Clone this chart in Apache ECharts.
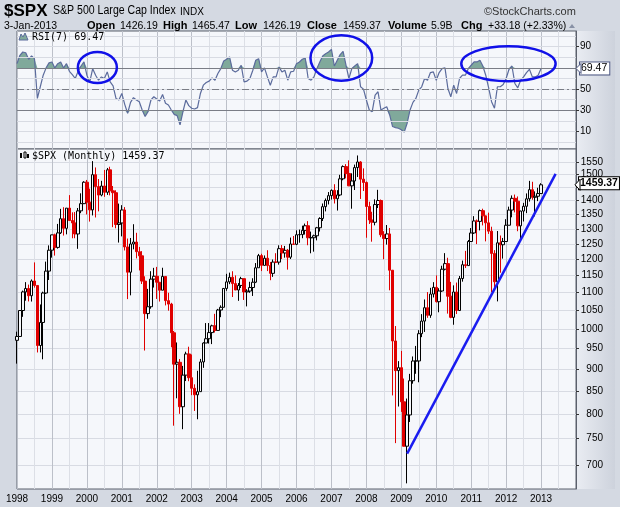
<!DOCTYPE html>
<html><head><meta charset="utf-8">
<script src="https://cdn.jsdelivr.net/npm/echarts@6/dist/echarts.min.js"></script>
<style>
html,body{margin:0;padding:0;background:#d4d9e2;overflow:hidden;}
#wrap{position:relative;width:620px;height:507px;}
#strip1,#strip2{position:absolute;left:577px;width:38px;background:linear-gradient(to right,#e9ecf2,#cdd2dc);}
#strip1{top:31px;height:118px;}
#strip2{top:149px;height:340px;}
#c{position:absolute;left:0;top:0;width:620px;height:507px;}
</style>
</head><body><div id="wrap"><div id="strip1"></div><div id="strip2"></div><div id="c"></div></div>
<script>
// ---------- data ----------
const yearLabels = ['1998','1999','2000','2001','2002','2003','2004','2005','2006','2007','2008','2009','2010','2011','2012','2013'];

// monthly candles [open, high, low, close]
const ohlc1998 = [[970.43,992.65,912.83,980.28],[980.28,1050.66,979.59,1049.34],[1049.34,1105.65,1032.10,1101.75],[1101.75,1130.52,1076.70,1111.75],[1111.75,1123.14,1074.67,1090.82],[1090.82,1138.49,1074.36,1133.84],[1133.84,1190.58,1114.30,1120.67],[1120.67,1121.40,939.98,957.28],[957.28,1066.11,939.98,1017.01],[1017.01,1102.51,923.32,1098.67],[1098.67,1192.97,1096.25,1163.63],[1163.63,1244.93,1136.89,1229.23]];
const ohlc1999 = [[1229.23,1280.37,1205.46,1279.64],[1279.64,1283.75,1211.89,1238.33],[1238.33,1316.97,1234.34,1286.37],[1286.37,1370.10,1282.56,1335.18],[1335.18,1375.98,1277.31,1301.84],[1301.84,1372.93,1281.41,1372.71],[1372.71,1420.33,1328.72,1328.72],[1328.72,1357.61,1268.37,1320.41],[1320.41,1358.55,1268.37,1282.71],[1282.71,1373.17,1233.70,1362.93],[1362.93,1427.04,1354.63,1388.91],[1388.91,1473.10,1387.38,1469.25]];
const ohlc2000 = [[1469.25,1478.00,1350.14,1394.46],[1394.46,1444.55,1325.07,1366.42],[1366.42,1552.87,1346.62,1498.58],[1498.58,1527.19,1339.40,1452.43],[1452.43,1481.51,1361.09,1420.60],[1420.60,1474.63,1415.86,1454.60],[1454.60,1517.32,1413.89,1430.83],[1430.83,1525.21,1421.02,1517.68],[1517.68,1530.09,1419.44,1436.51],[1436.51,1454.82,1305.79,1429.40],[1429.40,1438.46,1301.90,1314.95],[1314.95,1389.06,1254.07,1320.28]];
const ohlc2001 = [[1320.28,1383.37,1274.62,1366.01],[1366.01,1376.38,1228.37,1239.94],[1239.94,1267.42,1081.19,1160.33],[1160.33,1269.30,1091.99,1249.46],[1249.46,1315.93,1232.00,1255.82],[1255.82,1286.62,1203.03,1224.42],[1224.42,1239.78,1165.54,1211.23],[1211.23,1226.27,1124.87,1133.58],[1133.58,1147.91,944.75,1040.94],[1040.94,1110.61,1026.76,1059.78],[1059.78,1163.38,1054.31,1139.45],[1139.45,1173.62,1114.53,1148.08]];
const ohlc2002 = [[1148.08,1176.55,1081.66,1130.20],[1130.20,1130.20,1074.36,1106.73],[1106.73,1173.94,1106.73,1147.39],[1147.39,1147.84,1063.46,1076.92],[1076.92,1099.29,1048.96,1067.14],[1067.14,1070.74,952.92,989.82],[989.82,994.46,775.68,911.62],[911.62,965.00,833.44,916.07],[916.07,924.02,800.20,815.28],[815.28,907.44,768.63,885.76],[885.76,941.82,872.05,936.31],[936.31,954.28,871.70,879.82]];
const ohlc2003 = [[879.82,935.05,840.34,855.70],[855.70,864.64,806.29,841.15],[841.15,895.90,788.90,848.18],[848.18,924.24,847.85,916.92],[916.92,965.38,902.83,963.59],[963.59,1015.33,963.59,974.50],[974.50,1015.41,962.10,990.31],[990.31,1011.01,960.84,1008.01],[1008.01,1040.29,990.36,995.97],[995.97,1053.79,995.97,1050.71],[1050.71,1063.65,1031.20,1058.20],[1058.20,1112.56,1058.20,1111.92]];
const ohlc2004 = [[1111.92,1155.38,1105.08,1131.13],[1131.13,1158.98,1124.44,1144.94],[1144.94,1163.23,1087.16,1126.21],[1126.21,1150.57,1107.23,1107.30],[1107.30,1127.74,1076.32,1120.68],[1120.68,1146.34,1113.32,1140.84],[1140.84,1140.84,1078.78,1101.72],[1101.72,1109.68,1060.72,1104.24],[1104.24,1131.54,1099.18,1114.58],[1114.58,1142.05,1090.19,1130.20],[1130.20,1188.46,1127.60,1173.82],[1173.82,1217.33,1173.76,1211.92]];
const ohlc2005 = [[1211.92,1217.80,1163.75,1181.27],[1181.27,1212.44,1180.95,1203.60],[1203.60,1229.11,1163.69,1180.59],[1180.59,1191.88,1136.15,1156.85],[1156.85,1199.56,1146.18,1191.50],[1191.50,1219.59,1188.30,1191.33],[1191.33,1245.15,1183.55,1234.18],[1234.18,1245.86,1201.07,1220.33],[1220.33,1243.13,1205.35,1228.81],[1228.81,1233.34,1168.20,1207.01],[1207.01,1270.64,1201.07,1249.48],[1249.48,1275.80,1246.59,1248.29]];
const ohlc2006 = [[1248.29,1294.90,1245.74,1280.08],[1280.08,1297.57,1253.61,1280.66],[1280.66,1310.88,1268.42,1294.87],[1294.87,1318.16,1280.74,1310.61],[1310.61,1326.70,1245.34,1270.09],[1270.09,1290.68,1219.29,1270.20],[1270.20,1280.42,1224.54,1276.66],[1276.66,1306.74,1261.30,1303.82],[1303.82,1340.28,1290.93,1335.85],[1335.85,1389.45,1327.10,1377.94],[1377.94,1407.89,1360.98,1400.63],[1400.63,1431.81,1385.93,1418.30]];
const ohlc2007 = [[1418.30,1441.61,1403.97,1438.24],[1438.24,1461.57,1389.42,1406.82],[1406.82,1438.89,1363.98,1420.86],[1420.86,1498.02,1416.37,1482.37],[1482.37,1535.56,1476.70,1530.62],[1530.62,1540.56,1484.18,1503.35],[1503.35,1555.90,1454.25,1455.27],[1455.27,1503.89,1370.60,1473.99],[1473.99,1538.74,1439.45,1526.75],[1526.75,1576.09,1489.56,1549.38],[1549.38,1552.76,1406.10,1481.14],[1481.14,1523.57,1435.65,1468.36]];
const ohlc2008 = [[1468.36,1471.77,1270.05,1378.55],[1378.55,1396.02,1316.75,1330.63],[1330.63,1359.68,1256.98,1322.70],[1322.70,1404.57,1312.10,1385.59],[1385.59,1440.24,1373.07,1400.38],[1400.38,1404.05,1272.00,1280.00],[1280.00,1292.17,1200.44,1267.38],[1267.38,1313.15,1247.45,1282.83],[1282.83,1303.04,1106.42,1166.36],[1166.36,1167.03,839.80,968.75],[968.75,1007.51,741.02,896.24],[896.24,918.85,815.69,903.25]];
const ohlc2009 = [[903.25,943.85,804.30,825.88],[825.88,877.86,734.52,735.09],[735.09,832.98,666.79,797.87],[797.87,888.70,783.32,872.81],[872.81,930.17,866.10,919.14],[919.14,956.23,888.86,919.32],[919.32,996.68,869.32,987.48],[987.48,1039.47,978.51,1020.62],[1020.62,1080.15,991.97,1057.08],[1057.08,1101.36,1029.38,1036.19],[1036.19,1113.69,1029.38,1095.63],[1095.63,1130.38,1085.89,1115.10]];
const ohlc2010 = [[1115.10,1150.45,1071.59,1073.87],[1073.87,1112.42,1044.50,1104.49],[1104.49,1180.16,1101.91,1169.43],[1169.43,1219.80,1166.00,1186.69],[1186.69,1205.13,1040.78,1089.41],[1089.41,1131.23,1028.33,1030.71],[1030.71,1120.95,1010.91,1101.60],[1101.60,1129.24,1039.70,1049.33],[1049.33,1148.90,1048.08,1141.20],[1141.20,1196.14,1131.87,1183.26],[1183.26,1227.08,1173.00,1180.55],[1180.55,1262.60,1180.55,1257.64]];
const ohlc2011 = [[1257.64,1302.67,1257.62,1286.12],[1286.12,1344.07,1282.86,1327.22],[1327.22,1332.28,1249.05,1325.83],[1325.83,1367.75,1294.70,1363.61],[1363.61,1370.58,1311.80,1345.20],[1345.20,1345.20,1258.07,1320.64],[1320.64,1356.48,1282.86,1292.28],[1292.28,1307.38,1101.54,1218.89],[1218.89,1229.29,1114.22,1131.42],[1131.42,1292.66,1074.77,1253.30],[1253.30,1277.55,1158.66,1246.96],[1246.96,1269.37,1202.37,1257.60]];
const ohlc2012 = [[1257.60,1333.47,1257.60,1312.41],[1312.41,1378.04,1312.41,1365.68],[1365.68,1419.15,1340.03,1408.47],[1408.47,1422.38,1357.38,1397.91],[1397.91,1415.32,1291.98,1310.33],[1310.33,1363.46,1266.74,1362.16],[1362.16,1391.74,1325.41,1379.32],[1379.32,1426.68,1354.65,1406.58],[1406.58,1474.51,1396.56,1440.67],[1440.67,1470.96,1403.28,1412.16],[1412.16,1434.27,1343.35,1416.18],[1416.18,1448.00,1398.11,1426.19]];
const ohlc2013 = [[1426.19,1465.47,1426.19,1459.37]];

// RSI(7)
const rsi1998 = [74.0,81.9,85.0,84.3,78.1,81.2,78.7,41.2,52.2,63.1,70.0,74.7];
const rsi1999 = [75.6,70.0,74.0,75.6,70.0,74.0,66.8,63.7,60.0,66.8,71.8,75.6];
const rsi2000 = [63.1,56.8,69.3,63.1,58.4,61.5,60.0,66.2,56.8,53.1,41.2,39.7];
const rsi2001 = [45.9,35.6,27.2,37.5,41.9,39.7,38.1,30.3,24.1,28.7,39.7,42.8];
const rsi2002 = [40.6,38.7,45.0,36.6,35.0,30.3,26.2,25.0,16.2,28.7,39.7,34.4];
const rsi2003 = [31.9,31.2,32.5,45.9,53.7,56.2,57.5,60.6,58.4,64.7,69.3,76.5];
const rsi2004 = [78.1,80.3,67.8,66.2,67.8,72.5,56.8,57.5,60.0,67.8,77.2,78.7];
const rsi2005 = [66.2,70.0,61.5,53.7,61.5,61.5,70.9,66.2,67.8,58.4,66.2,66.8];
const rsi2006 = [74.0,75.6,78.1,79.3,60.0,58.4,61.5,69.3,75.6,81.2,83.4,85.0];
const rsi2007 = [87.5,71.8,77.2,82.5,85.6,72.5,60.0,69.3,71.8,74.0,52.2,50.0];
const rsi2008 = [39.7,30.3,28.7,44.4,47.5,30.3,31.9,33.4,25.6,14.7,13.7,13.1];
const rsi2009 = [11.6,9.4,17.8,30.3,37.5,41.2,49.0,52.2,60.0,58.4,65.6,66.2];
const rsi2010 = [58.4,65.6,69.3,70.0,50.6,42.8,53.7,45.9,60.0,63.1,63.1,69.3];
const rsi2011 = [72.5,75.6,75.6,77.2,71.8,63.1,51.2,38.1,31.9,52.2,52.2,54.3];
const rsi2012 = [60.0,68.7,71.8,55.3,51.2,58.4,61.5,65.6,68.7,61.5,61.5,63.1];
const rsi2013 = [69.47];

// axis ticks / labels
const priceGrid = [700,750,800,850,900,950,1000,1050,1100,1150,1200,1250,1300,1350,1400,1450,1500,1550];
const priceLabels = [700,750,800,850,900,950,1000,1050,1100,1150,1200,1250,1300,1350,1400,1500,1550];
const rsiGrid = [0,10,20,30,40,50,60,70,80,90,100];
const rsiTicks = [10,30,50,70,90];
const rsiLabels = [10,30,50,90];
const rsiUpper = 70, rsiMid = 50, rsiLower = 30;
const lastClose = 1459.37;
const lastRsi = 69.47;

// trend line (annotation) endpoints
const trendFrom = ['2009-03', 721];
const trendTo = ['2013-06', 1502];

// header texts
const symbolText = '$SPX';
const nameText = 'S&P 500 Large Cap Index';
const exchText = 'INDX';
const brandText = '\u00A9StockCharts.com';
const quoteDate = '3-Jan-2013';
const quoteLabels = ['Open','High','Low','Close','Volume','Chg'];
const quoteValues = ['1426.19','1465.47','1426.19','1459.37','5.9B','+33.18 (+2.33%)'];
const rsiTitle = 'RSI(7) 69.47';
const priceTitle = '$SPX (Monthly) 1459.37';

// ---------- build ----------
const ohlc = [].concat(ohlc1998,ohlc1999,ohlc2000,ohlc2001,ohlc2002,ohlc2003,ohlc2004,ohlc2005,ohlc2006,ohlc2007,ohlc2008,ohlc2009,ohlc2010,ohlc2011,ohlc2012,ohlc2013);
const rsi = [].concat(rsi1998,rsi1999,rsi2000,rsi2001,rsi2002,rsi2003,rsi2004,rsi2005,rsi2006,rsi2007,rsi2008,rsi2009,rsi2010,rsi2011,rsi2012,rsi2013);
const months = [];
yearLabels.forEach(y => { for (let m = 1; m <= 12; m++) months.push(y + '-' + (m < 10 ? '0' + m : m)); });
months.push('2014-01');

const LN = Math.log;
const candleData = ohlc.map(d => [LN(d[0]), LN(d[3]), LN(d[2]), LN(d[1])]);

const GRID_COLOR = '#d8dbe3';
const hfont = 'Liberation Sans, Arial, sans-serif';
const xAxisBase = (gi, showLabel) => ({
  type: 'category', gridIndex: gi, data: months, boundaryGap: false,
  axisLine: { show: false }, axisTick: { show: false },
  axisLabel: {
    show: showLabel, interval: (i) => i % 12 === 0 && i < 192,
    formatter: v => v.slice(0, 4), color: '#000', fontSize: 10,
    fontFamily: hfont, margin: 5
  },
  splitLine: { show: true, interval: (i) => i % 6 === 0,
    lineStyle: { color: ['#bcc0c9', '#dcdfe6'], width: 1 } }
});

const headerGraphics = [];
headerGraphics.push({ type: 'text', x: 4, y: 3, style: { text: symbolText, font: 'bold 17px ' + hfont, fill: '#000' } });
headerGraphics.push({ type: 'text', x: 53, y: 5, scaleX: 0.88, style: { text: nameText, font: '12px ' + hfont, fill: '#000' } });
headerGraphics.push({ type: 'text', x: 180, y: 7, style: { text: exchText, font: '10px ' + hfont, fill: '#000' } });
headerGraphics.push({ type: 'text', x: 484, y: 6, style: { text: brandText, font: '11px ' + hfont, fill: '#333' } });
headerGraphics.push({ type: 'text', x: 4, y: 21, style: { text: quoteDate, font: '10.5px ' + hfont, fill: '#000' } });
const qLabelX = [87, 163, 235, 307, 388, 461];
const qValueX = [120, 192, 263, 343, 431, 488];
quoteLabels.forEach((t, i) => {
  headerGraphics.push({ type: 'text', x: qLabelX[i], y: 20, style: { text: t, font: 'bold 11px ' + hfont, fill: '#000' } });
  headerGraphics.push({ type: 'text', x: qValueX[i], y: 21, style: { text: quoteValues[i], font: '10.5px ' + hfont, fill: '#000' } });
});
headerGraphics.push({ type: 'polygon', shape: { points: [[569, 28], [575, 28], [572, 24]] }, style: { fill: '#8891a6' } });
// panel titles
headerGraphics.push({ type: 'text', x: 32, y: 32, z: 10, style: { text: rsiTitle, font: '10px "DejaVu Sans Mono", monospace', fill: '#000' } });
headerGraphics.push({ type: 'polygon', z: 10, shape: { points: [[19, 40], [21, 34], [23, 37], [25, 33], [28, 40]] }, style: { fill: '#80a99b', stroke: '#5b6b9c', lineWidth: 1 } });
headerGraphics.push({ type: 'text', x: 32, y: 151, z: 10, style: { text: priceTitle, font: '10px "DejaVu Sans Mono", monospace', fill: '#000' } });
headerGraphics.push({ type: 'rect', z: 10, shape: { x: 20, y: 153, width: 2, height: 5 }, style: { fill: '#000' } });
headerGraphics.push({ type: 'rect', z: 10, shape: { x: 24, y: 152, width: 2, height: 6 }, style: { fill: 'none', stroke: '#000', lineWidth: 1 } });
headerGraphics.push({ type: 'rect', z: 10, shape: { x: 27, y: 154, width: 2, height: 4 }, style: { fill: '#000' } });

const HIDDEN = { color: 'rgba(0,0,0,0)', width: 0 };

const option = {
  animation: false,
  backgroundColor: 'transparent',
  grid: [
    { left: 17, top: 31, width: 559, height: 118, show: true, backgroundColor: '#f5f7fb', borderColor: '#5b606c', borderWidth: 1 },
    { left: 17, top: 149, width: 559, height: 340, show: true, backgroundColor: '#f5f7fb', borderColor: '#5b606c', borderWidth: 1 }
  ],
  xAxis: [xAxisBase(0, false), xAxisBase(1, true)],
  yAxis: [
    { type: 'value', gridIndex: 0, position: 'right', min: -6.5, max: 104.8,
      axisLine: { show: true, lineStyle: { color: '#5b606c' } },
      axisTick: { show: true, customValues: rsiTicks, length: 3, lineStyle: { color: '#333' } },
      axisLabel: { customValues: rsiLabels, color: '#000', fontSize: 10, fontFamily: hfont, margin: 4 },
      splitLine: { show: false } },
    { type: 'value', gridIndex: 1, position: 'right', min: LN(657), max: LN(1603),
      axisLine: { show: true, lineStyle: { color: '#5b606c' } },
      axisTick: { show: true, customValues: priceGrid.map(LN), length: 3, lineStyle: { color: '#333' } },
      axisLabel: { customValues: priceLabels.map(LN), formatter: v => String(Math.round(Math.exp(v))),
        color: '#000', fontSize: 10, fontFamily: hfont, align: 'right', margin: 27 },
      splitLine: { show: true, lineStyle: { color: GRID_COLOR } } }
  ],
  series: [
    { name: 'rsiGridLines', type: 'line', xAxisIndex: 0, yAxisIndex: 0, data: [], silent: true,
      markLine: { silent: true, symbol: 'none', label: { show: false },
        data: rsiGrid.map(v => ({ yAxis: v, lineStyle: { color: GRID_COLOR, width: 1, type: 'solid' } })) } },
    { name: 'hiBase', type: 'line', xAxisIndex: 0, yAxisIndex: 0, stack: 'hi', data: rsi.map(() => rsiUpper),
      symbol: 'none', lineStyle: { width: 0, opacity: 0 }, silent: true, z: 2 },
    { name: 'hiFill', type: 'line', xAxisIndex: 0, yAxisIndex: 0, stack: 'hi', data: rsi.map(v => Math.max(v, rsiUpper) - rsiUpper),
      symbol: 'none', lineStyle: { width: 0, opacity: 0 }, areaStyle: { color: '#80a99b', opacity: 1 }, silent: true, z: 2 },
    { name: 'loBase', type: 'line', xAxisIndex: 0, yAxisIndex: 0, stack: 'lo', data: rsi.map(v => Math.min(v, rsiLower)),
      symbol: 'none', lineStyle: { width: 0, opacity: 0 }, silent: true, z: 2 },
    { name: 'loFill', type: 'line', xAxisIndex: 0, yAxisIndex: 0, stack: 'lo', data: rsi.map(v => rsiLower - Math.min(v, rsiLower)),
      symbol: 'none', lineStyle: { width: 0, opacity: 0 }, areaStyle: { color: '#80a99b', opacity: 1 }, silent: true, z: 2 },
    { name: 'RSI', type: 'line', xAxisIndex: 0, yAxisIndex: 0, data: rsi, symbol: 'none',
      lineStyle: { color: '#5b6b9c', width: 1.2 }, z: 4,
      markLine: { silent: true, symbol: 'none',
        data: [
          { yAxis: rsiUpper, lineStyle: { color: '#7a7d86', width: 1, type: 'solid' }, label: { show: false } },
          { yAxis: rsiLower, lineStyle: { color: '#7a7d86', width: 1, type: 'solid' }, label: { show: false } },
          { yAxis: rsiMid, lineStyle: { color: '#7a7d86', width: 1, type: [7, 3, 2, 3] }, label: { show: false } },
          { yAxis: lastRsi, lineStyle: HIDDEN,
            label: { show: true, position: 'end', distance: 4, formatter: String(lastRsi), color: '#000', fontSize: 10.5,
              fontFamily: hfont, backgroundColor: '#fff', borderColor: '#4a5580', borderWidth: 1, padding: [1, 2, 0, 1] } }
        ] } },
    { name: '$SPX', type: 'candlestick', xAxisIndex: 1, yAxisIndex: 1, data: candleData, barWidth: 3,
      itemStyle: { color: '#f5f7fb', color0: '#e00000', borderColor: '#000', borderColor0: '#e00000', borderWidth: 1 },
      markLine: { silent: true, symbol: 'none',
        data: [{ yAxis: LN(lastClose), lineStyle: HIDDEN,
          label: { show: true, position: 'end', distance: 3, formatter: String(lastClose), color: '#000', fontSize: 10.5,
            fontWeight: 'bold', fontFamily: hfont, backgroundColor: '#fff', borderColor: '#000', borderWidth: 1, padding: [1, 1, 0, 1] } }] } },
    { name: 'trend', type: 'line', xAxisIndex: 1, yAxisIndex: 1, symbol: 'none', z: 6,
      data: [[trendFrom[0], LN(trendFrom[1])], [trendTo[0], LN(trendTo[1])]],
      lineStyle: { color: '#1a1cf0', width: 2.5 } }
  ],
  graphic: { elements: headerGraphics }
};

const chart = echarts.init(document.getElementById('c'), null, { renderer: 'canvas' });
chart.setOption(option);

// annotation ellipses on RSI panel, positioned via the RSI axes
const rsiCircles = [
  { at: 27.6, rsi: 70.4, halfMonths: 6.7, halfRsi: 14.6 },
  { at: 111.4, rsi: 79.3, halfMonths: 10.6, halfRsi: 21.4 },
  { at: 168.8, rsi: 73.9, halfMonths: 16.2, halfRsi: 16.5 }
];
const p0 = chart.convertToPixel({ gridIndex: 0 }, [0, 0]);
const p12 = chart.convertToPixel({ gridIndex: 0 }, [12, 10]);
const pxMonth = (p12[0] - p0[0]) / 12;
const pxRsi = (p0[1] - p12[1]) / 10;
const ell = rsiCircles.map((c, i) => ({
  type: 'ellipse', id: 'ell' + i, z: 20,
  shape: { cx: p0[0] + c.at * pxMonth, cy: p0[1] - c.rsi * pxRsi, rx: c.halfMonths * pxMonth, ry: c.halfRsi * pxRsi },
  style: { fill: 'none', stroke: '#1010e8', lineWidth: 2.5 }
}));
// arrow pointers of the last-value boxes, placed at the values through the axes
const rightEdge = chart.convertToPixel({ gridIndex: 0 }, [192, 0])[0];
const yRsi = chart.convertToPixel({ gridIndex: 0 }, [0, lastRsi])[1];
const yClose = chart.convertToPixel({ gridIndex: 1 }, [0, LN(lastClose)])[1];
const arrows = [
  { type: 'polygon', z: 30, shape: { points: [[rightEdge, yRsi], [rightEdge + 5, yRsi - 5], [rightEdge + 5, yRsi + 5]] }, style: { fill: '#fff', stroke: '#4a5580', lineWidth: 1 } },
  { type: 'polygon', z: 30, shape: { points: [[rightEdge - 1, yClose], [rightEdge + 4, yClose - 5.5], [rightEdge + 4, yClose + 5.5]] }, style: { fill: '#fff', stroke: '#000', lineWidth: 1 } }
];
chart.setOption({ graphic: { elements: headerGraphics.concat(ell, arrows) } });
</script></body></html>
